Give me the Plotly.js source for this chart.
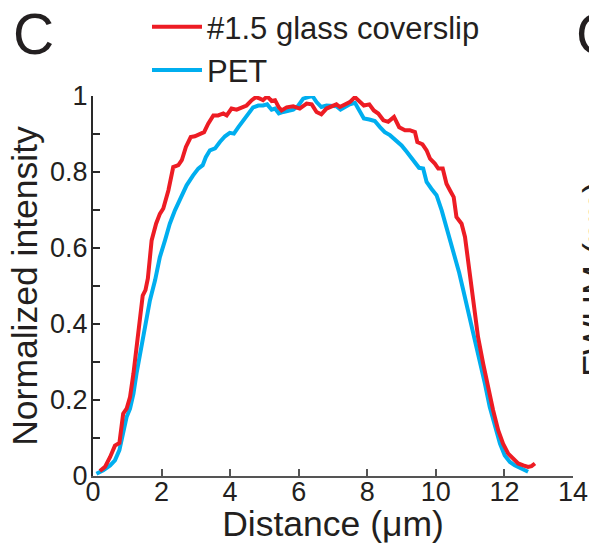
<!DOCTYPE html>
<html>
<head>
<meta charset="utf-8">
<script src="https://cdn.plot.ly/plotly-3.0.1.min.js"></script>
<style>
  html, body { margin: 0; padding: 0; background: #ffffff; }
  #chart { width: 589px; height: 544px; }
</style>
</head>
<body>
<div id="chart"></div>
<script>
// Series: #1.5 glass coverslip (red)
const glassX = [0.2,0.35,0.5,0.64,0.77,0.88,0.98,1.08,1.18,1.27,1.37,1.45,1.53,1.6,1.71,1.84,1.95,2.05,2.2,2.34,2.49,2.59,2.71,2.85,2.97,3.1,3.24,3.36,3.51,3.65,3.8,3.9,4.04,4.19,4.34,4.48,4.63,4.75,4.87,4.96,5.08,5.21,5.31,5.42,5.5,5.65,5.84,6.03,6.23,6.38,6.52,6.66,6.81,6.96,7.1,7.2,7.35,7.49,7.64,7.77,7.9,8.06,8.19,8.32,8.47,8.61,8.78,8.93,9.1,9.24,9.39,9.46,9.61,9.73,9.83,9.97,10.07,10.2,10.31,10.41,10.52,10.6,10.75,10.85,10.97,11.04,11.09,11.23,11.38,11.52,11.67,11.82,11.96,12.11,12.25,12.4,12.55,12.69,12.79,12.89];
const glassY = [0.013,0.024,0.05,0.08,0.087,0.164,0.177,0.208,0.27,0.34,0.427,0.475,0.489,0.52,0.62,0.664,0.69,0.704,0.752,0.813,0.818,0.831,0.866,0.892,0.894,0.9,0.905,0.927,0.949,0.949,0.954,0.949,0.967,0.964,0.97,0.975,0.989,0.997,0.993,0.989,0.999,0.987,0.989,0.97,0.962,0.97,0.973,0.967,0.98,0.978,0.958,0.952,0.967,0.973,0.978,0.971,0.978,0.984,0.997,0.987,0.975,0.978,0.962,0.954,0.936,0.932,0.945,0.918,0.91,0.91,0.905,0.879,0.873,0.857,0.835,0.822,0.809,0.809,0.769,0.752,0.734,0.682,0.664,0.629,0.545,0.48,0.445,0.366,0.296,0.234,0.173,0.12,0.085,0.059,0.046,0.033,0.028,0.024,0.026,0.033];

// Series: PET (blue)
const petX = [0.1,0.3,0.5,0.64,0.77,0.88,0.98,1.08,1.18,1.27,1.37,1.47,1.56,1.66,1.81,1.95,2.1,2.24,2.39,2.54,2.73,2.92,3.07,3.2,3.29,3.41,3.56,3.7,3.85,3.99,4.11,4.24,4.38,4.53,4.67,4.82,4.96,5.08,5.21,5.31,5.42,5.55,5.69,5.84,5.99,6.13,6.28,6.4,6.52,6.66,6.81,6.96,7.1,7.22,7.35,7.49,7.64,7.77,7.9,8.06,8.22,8.37,8.51,8.66,8.85,9.0,9.15,9.34,9.51,9.63,9.73,9.87,10.02,10.17,10.31,10.46,10.58,10.68,10.8,10.94,11.09,11.28,11.43,11.57,11.72,11.87,12.01,12.16,12.3,12.45,12.6,12.69];
const petY = [0.006,0.015,0.028,0.041,0.068,0.112,0.155,0.177,0.217,0.27,0.322,0.375,0.418,0.462,0.515,0.576,0.62,0.664,0.699,0.73,0.765,0.791,0.809,0.818,0.839,0.857,0.862,0.879,0.894,0.903,0.901,0.918,0.936,0.954,0.97,0.975,0.975,0.978,0.964,0.967,0.954,0.958,0.96,0.964,0.975,0.993,0.997,1.0,0.984,0.971,0.975,0.975,0.973,0.964,0.971,0.978,0.982,0.962,0.941,0.938,0.934,0.918,0.905,0.897,0.883,0.87,0.853,0.831,0.811,0.809,0.774,0.756,0.739,0.699,0.655,0.612,0.568,0.535,0.489,0.436,0.375,0.305,0.243,0.182,0.129,0.085,0.054,0.037,0.028,0.022,0.017,0.011];

const seriesNames = ['#1.5 glass coverslip', 'PET'];
const xTickVals = [0, 2, 4, 6, 8, 10, 12, 14];
const xTickText = ['0', '2', '4', '6', '8', '10', '12', '14'];
const yTickVals = [0, 0.1, 0.2, 0.3, 0.4, 0.5, 0.6, 0.7, 0.8, 0.9, 1];
const yTickText = ['0', '', '0.2', '', '0.4', '', '0.6', '', '0.8', '', '1'];

const FONT = 'Arial, "Liberation Sans", Helvetica, sans-serif';
const INK = '#231F20';

const traces = [
  { x: glassX, y: glassY, name: seriesNames[0], type: 'scatter', mode: 'lines',
    line: { color: '#ED1C24', width: 4 } },
  { x: petX, y: petY, name: seriesNames[1], type: 'scatter', mode: 'lines',
    line: { color: '#00AEEF', width: 4 } }
];
// draw red on top of blue like the reference
const data = [traces[1], traces[0]];

const layout = {
  width: 589, height: 544,
  margin: { l: 93, r: 16, t: 96, b: 68, pad: 0, autoexpand: false },
  paper_bgcolor: '#ffffff', plot_bgcolor: '#ffffff',
  font: { family: FONT, color: INK, size: 27 },
  showlegend: true,
  legend: {
    x: (147 - 93) / 480, y: (476 + 0) / 380, xanchor: 'left', yanchor: 'top',
    traceorder: 'reversed', font: { family: FONT, size: 31, color: INK },
    bgcolor: 'rgba(0,0,0,0)', borderwidth: 0, itemwidth: 50
  },
  xaxis: {
    range: [0, 14], showgrid: false, zeroline: false,
    showline: true, linecolor: '#555555', linewidth: 2,
    ticks: 'inside', ticklen: 7, tickwidth: 2, tickcolor: '#555555',
    tickvals: xTickVals, ticktext: xTickText, ticklabelstandoff: -9,
    tickfont: { family: FONT, size: 27, color: INK },
    title: { text: 'Distance (\u03bcm)', font: { family: FONT, size: 35.5, color: INK }, standoff: 8 },
    fixedrange: true
  },
  yaxis: {
    range: [0, 1], showgrid: false, zeroline: false,
    showline: true, linecolor: '#2a2a2a', linewidth: 2,
    ticks: 'inside', ticklen: 7, tickwidth: 2, tickcolor: '#2a2a2a',
    tickvals: yTickVals, ticktext: yTickText, ticklabelstandoff: -2,
    tickfont: { family: FONT, size: 27, color: INK },
    title: { text: 'Normalized intensity', font: { family: FONT, size: 35.5, color: INK }, standoff: 2 },
    fixedrange: true
  },
  annotations: [
    { text: 'C', xref: 'paper', yref: 'paper', x: (33 - 93) / 480, y: (476 - 34) / 380,
      xanchor: 'center', yanchor: 'middle', showarrow: false,
      font: { family: FONT, size: 57, color: INK } },
    { text: 'C', xref: 'paper', yref: 'paper', x: (574 - 93) / 480, y: (476 - 34) / 380,
      xanchor: 'left', yanchor: 'middle', showarrow: false,
      font: { family: FONT, size: 57, color: INK } },
    { text: 'FWHM (nm)', xref: 'paper', yref: 'paper', x: (596 - 93) / 480, y: (476 - 279) / 380,
      xanchor: 'center', yanchor: 'middle', textangle: -90, showarrow: false,
      font: { family: FONT, size: 36, color: INK } }
  ]
};

Plotly.newPlot('chart', data, layout, { displayModeBar: false, staticPlot: true });
</script>
</body>
</html>
